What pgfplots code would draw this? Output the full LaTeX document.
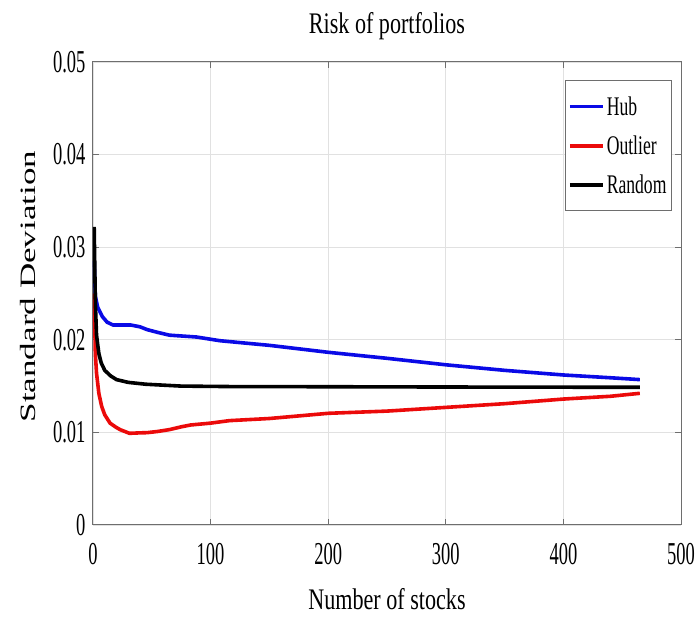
\documentclass[border=0pt]{standalone}
\usepackage{fontspec}
\setmainfont{Liberation Serif}[FakeStretch=0.7]
\newfontfamily\tickfont{Liberation Serif}[FakeStretch=0.58]
\newfontfamily\titlefont{Liberation Serif}[FakeStretch=0.74]
\newfontfamily\legfont{Liberation Serif}[FakeStretch=0.655]
\newfontfamily\ylabfont{Liberation Serif}
\usepackage{pgfplots}
\pgfplotsset{compat=1.18}
\definecolor{axgray}{RGB}{110,110,110}
\definecolor{gridgray}{RGB}{225,225,225}
\definecolor{hubblue}{RGB}{10,10,230}
\definecolor{outred}{RGB}{235,10,10}
\begin{document}
\begin{tikzpicture}
\begin{axis}[
  scale only axis,
  width=588bp, height=463bp,
  xmin=0, xmax=500, ymin=0, ymax=0.05,
  xtick={0,100,...,500},
  ytick={0,0.01,0.02,0.03,0.04,0.05},
  scaled y ticks=false,
  yticklabel style={/pgf/number format/fixed,/pgf/number format/precision=2},
  /pgf/number format/assume math mode=true,
  tick label style={font=\tickfont\fontsize{32}{34}\selectfont},
  grid=major,
  major grid style={gridgray, line width=0.8bp},
  axis line style={axgray, line width=1bp},
  tick style={axgray, line width=1bp},
  tick align=inside,
  major tick length=6bp,
  title={Risk of portfolios},
  title style={font=\titlefont\fontsize{30}{32}\selectfont, at={(axis description cs:0.5,1)}, anchor=base, yshift=23bp},
  xlabel={Number of stocks},
  xlabel style={font=\titlefont\fontsize{30}{32}\selectfont, at={(axis description cs:0.5,0)}, anchor=base, yshift=-85bp},
  ylabel={\scalebox{1.6}[1]{Standard Deviation}},
  ylabel style={font=\ylabfont\fontsize{22}{24}\selectfont, at={(axis description cs:-0.1105,0.515)}, anchor=center},
  xticklabel style={yshift=-15bp},
  yticklabel style={xshift=-4bp},
  legend style={at={(rel axis cs:1,1)}, anchor=north east, xshift=-9bp, yshift=-18bp,
    draw=axgray, line width=1bp, font=\legfont\fontsize{27}{29}\selectfont,
    row sep=15bp, inner xsep=3bp, inner ysep=14bp},
  legend cell align=left,
  legend image code/.code={\draw[#1, line width=3.8bp] (0bp,0bp) -- (33bp,0bp);},
]
\addplot[hubblue, line width=3.6bp] coordinates {
(1,0.0285) (2,0.0247) (4,0.0235) (8,0.0225) (12,0.0219) (17,0.0216) (25,0.0216) (32,0.0216)
(40,0.0214) (46,0.0211) (55,0.0208) (65,0.0205) (88,0.0203) (108,0.0199) (150,0.0194)
(200,0.01865) (250,0.0180) (300,0.0173) (350,0.0167) (400,0.0162) (440,0.0159) (465,0.0157)};
\addlegendentry{Hub}
\addplot[outred, line width=3.6bp] coordinates {
(1,0.0250) (2,0.0185) (3,0.0164) (5,0.0142) (7.4,0.0128) (10,0.0119) (14.5,0.0110) (19,0.0106)
(23,0.0103) (31,0.0099) (40,0.00995) (46,0.00997) (55,0.0101) (65,0.0103) (75,0.0106)
(83,0.0108) (100,0.0110) (116,0.01127) (150,0.0115) (200,0.01206) (250,0.0123) (300,0.0127)
(350,0.0131) (400,0.0136) (440,0.0139) (465,0.01422)};
\addlegendentry{Outlier}
\addplot[black, line width=3.6bp] coordinates {
(1,0.0322) (2,0.0240) (3,0.0205) (5,0.0185) (7,0.0175) (10,0.0167) (15,0.0161) (20,0.0157)
(30,0.0154) (45,0.0152) (75,0.0150) (116,0.01495) (200,0.01493) (300,0.0149) (465,0.01487)};
\addlegendentry{Random}
\end{axis}
\path (current axis.south west) ++(-93bp,-93bp);
\path (current axis.north east) ++(19bp,62bp);
\end{tikzpicture}
\end{document}
